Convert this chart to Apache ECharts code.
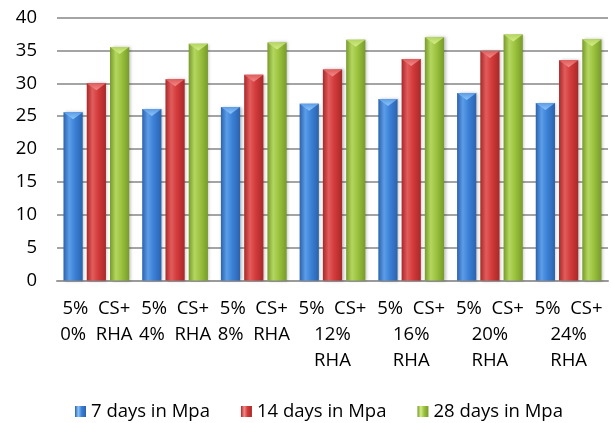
<!DOCTYPE html>
<html><head><meta charset="utf-8">
<script src="https://cdn.jsdelivr.net/npm/echarts@6/dist/echarts.min.js"></script>
<style>html,body{margin:0;padding:0;background:#fff}#c{width:612px;height:423px}</style>
</head><body><div id="c"></div>
<script>
var categories = ['5% CS+ 0% RHA','5% CS+ 4% RHA','5% CS+ 8% RHA','5% CS+ 12% RHA','5% CS+ 16% RHA','5% CS+ 20% RHA','5% CS+ 24% RHA'];
var seriesNames = ['7 days in Mpa','14 days in Mpa','28 days in Mpa'];
var days7 = [25.6, 26.1, 26.4, 26.9, 27.6, 28.5, 27.0];
var days14 = [30.0, 30.6, 31.3, 32.1, 33.7, 34.9, 33.5];
var days28 = [35.5, 36.0, 36.2, 36.6, 37.0, 37.4, 36.7];
var yTicks = [0, 5, 10, 15, 20, 25, 30, 35, 40];

var FONT = '"Open Sans"';
var FS = 18.5;
function grad(dark, mid, light) {
  return new echarts.graphic.LinearGradient(0, 0, 1, 0, [
    {offset: 0, color: dark}, {offset: 0.3, color: light}, {offset: 0.6, color: mid}, {offset: 1, color: dark}
  ]);
}
var styles = [
  {dark: '#2b62ad', mid: '#3b80d6', light: '#5c9de8', cap: '#8cc4f7'},
  {dark: '#a92828', mid: '#d23a3a', light: '#e25c5c', cap: '#f08a8a'},
  {dark: '#779b2a', mid: '#9bc23e', light: '#b4d660', cap: '#d4ec8a'}
];
var dataArr = [days7, days14, days28];
var series = [];
dataArr.forEach(function (d, i) {
  var s = styles[i];
  series.push({
    name: seriesNames[i], type: 'bar', data: d,
    barGap: '21%', barCategoryGap: '16.5%',
    itemStyle: {color: grad(s.dark, s.mid, s.light), shadowColor: 'rgba(0,0,0,0.25)', shadowBlur: 3, shadowOffsetX: 1.5},
    emphasis: {disabled: true}
  });
});
dataArr.forEach(function (d, i) {
  var s = styles[i];
  series.push({
    name: seriesNames[i] + ' cap', type: 'pictorialBar', data: d,
    barGap: '21%', barCategoryGap: '16.5%',
    symbol: 'triangle', symbolRotate: 180, symbolPosition: 'end',
    symbolSize: ['100%', 7], symbolOffset: [0, 0],
    itemStyle: {color: new echarts.graphic.LinearGradient(0, 0, 0, 1, [{offset: 0, color: s.cap}, {offset: 1, color: s.light}])},
    emphasis: {disabled: true}, z: 3, silent: true
  });
});
function fmtLabel(v) {
  var w = v.split(' ');
  var rest = w.slice(2).join(' ');
  var restTxt = w[2].length > 2 ? w.slice(2).join('\n') : w.slice(2).join('  ');
  return w[0] + '  ' + w[1] + '\n' + restTxt;
}
var chart = echarts.init(document.getElementById('c'), null, {renderer: 'canvas'});
chart.setOption({
  animation: false,
  grid: {left: 57, right: 4, top: 17.5, bottom: 142.5, containLabel: false},
  legend: {
    top: 400, left: 75, padding: 0, itemWidth: 11, itemHeight: 11, itemGap: 31,
    icon: 'rect',
    textStyle: {fontFamily: FONT, fontSize: FS, color: '#000', lineHeight: 23, padding: [0, 0, 0, 0]},
    data: [
      {name: seriesNames[0], itemStyle: {color: grad(styles[0].dark, styles[0].mid, styles[0].cap)}},
      {name: seriesNames[1], itemStyle: {color: grad(styles[1].dark, styles[1].mid, styles[1].cap)}},
      {name: seriesNames[2], itemStyle: {color: grad(styles[2].dark, styles[2].mid, styles[2].cap)}}
    ]
  },
  xAxis: {
    type: 'category', data: categories,
    axisLine: {lineStyle: {color: '#9a9a9a', width: 2}},
    axisTick: {show: false},
    axisLabel: {
      fontFamily: FONT, fontSize: FS, color: '#000', margin: 15, lineHeight: 26,
      interval: 0, formatter: fmtLabel
    }
  },
  yAxis: {
    type: 'value', min: yTicks[0], max: yTicks[yTicks.length - 1], interval: 5,
    axisLine: {show: false}, axisTick: {show: false},
    splitLine: {lineStyle: {color: '#868686', width: 1.5}},
    axisLabel: {fontFamily: FONT, fontSize: FS, color: '#000', margin: 20}
  },
  series: series
});
</script></body></html>
